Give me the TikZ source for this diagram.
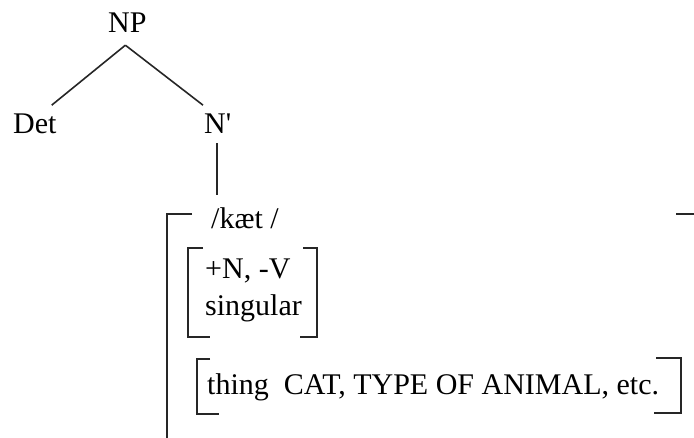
\documentclass[tikz,border=0pt]{standalone}
\usepackage{fontspec}
\setmainfont{Liberation Serif}
\usetikzlibrary{calc}
\begin{document}
\begin{tikzpicture}[x=1pt,y=-1pt,
  lbl/.style={anchor=base west,inner sep=0pt,font=\fontsize{30}{36}\selectfont},
  treeline/.style={line width=1.6pt,black!85},
  brk/.style={line width=1.9pt,black!85}]
\useasboundingbox (0,0) rectangle (694,437);
\node[lbl] (np) at (108,32) {NP};
\node[lbl] (det) at (13,133) {Det};
\node[lbl] (nbar) at (204,133) {N\textquotesingle};
\node[lbl] (kaet) at (211,228) {/kæt /};
\node[lbl] (nv) at (205,278) {+N, -V};
\node[lbl] (sing) at (205,315) {singular};
\node[lbl] (thing) at (207,394) {thing\ \ CAT, TYPE OF ANIMAL, etc.};
% tree
\draw[treeline] ($(np.south)+(-2,13)$) -- ($(det.north east)+(-5,-8)$);
\draw[treeline] ($(np.south)+(-2,13)$) -- ($(nbar.north west)+(-1,-8)$);
\draw[treeline] ($(nbar.south)+(-1,10)$) -- ++(0,52);
% big bracket
\draw[brk] (192,214) -- (167,214) -- (167,440);
\draw[brk] (676,214) -- (698,214);
% inner bracket
\draw[brk] (203,248) -- (188,248) -- (188,337) -- (210,337);
\draw[brk] (303,248) -- (317,248) -- (317,337) -- (300,337);
% thing bracket
\draw[brk] (210,359) -- (197,359) -- (197,414) -- (219,414);
\draw[brk] (656,358) -- (681,358) -- (681,413) -- (654,413);
\end{tikzpicture}
\end{document}
